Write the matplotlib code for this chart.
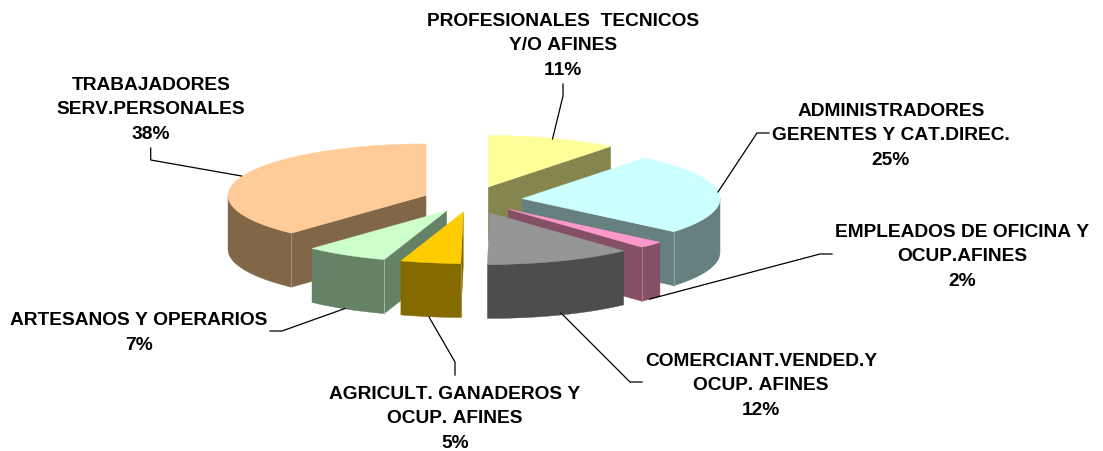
import numpy as np
import matplotlib
matplotlib.use("Agg")
import matplotlib.pyplot as plt
from matplotlib.patches import Polygon

plt.rcParams["text.kerning_factor"] = 16

# --- data ---
categories = [
    "PROFESIONALES  TECNICOS\nY/O AFINES",
    "ADMINISTRADORES\nGERENTES Y CAT.DIREC.",
    "EMPLEADOS DE OFICINA Y\nOCUP.AFINES",
    "COMERCIANT.VENDED.Y\nOCUP. AFINES",
    "AGRICULT. GANADEROS Y\nOCUP. AFINES",
    "ARTESANOS Y OPERARIOS",
    "TRABAJADORES\nSERV.PERSONALES",
]
values = [10.6, 25.5, 2.1, 12.0, 4.9, 6.8, 38.1]
percent_labels = ["11%", "25%", "2%", "12%", "5%", "7%", "38%"]

# --- style ---
top_colors = ["#FFFF99", "#CCFFFF", "#FF99CC", "#969696", "#FFCC00", "#CCFFCC", "#FFCC99"]
side_colors = ["#85854F", "#668080", "#854F66", "#4D4D4D", "#856A00", "#668266", "#826648"]
seam_colors = ["#A5A57F", "#8CA3A3", "#A5808F", "#808080", "#A58F33", "#A0B8A0", "#A58F7A"]
explode = [0.267, 0.259, 0.26, 0.268, 0.236, 0.2416, 0.244]
CX, CY, RX, RY, DEPTH = 471.0, 201.0, 198.0, 51.5, 54.0

label_pos = [(563, 46), (891, 136), (962, 257), (761, 386), (455, 419), (139, 333), (151, 110)]
leaders = [
    [(552.5, 140), (563, 97), (563, 85)],
    [(718, 193), (757, 134), (769, 134)],
    [(650, 300), (820, 255), (832, 255)],
    [(561, 314), (630, 383), (642, 383)],
    [(429, 318), (455, 363), (455, 376)],
    [(345, 309.5), (282, 332), (270, 332)],
    [(241.5, 177), (150.7, 161), (150.7, 149)],
]

fig = plt.figure(figsize=(11.03, 4.52), dpi=100)
ax = fig.add_axes([0, 0, 1, 1])
ax.set_xlim(0, 1103)
ax.set_ylim(452, 0)
ax.axis("off")

edges = np.radians(np.concatenate([[0], np.cumsum(values)]) / np.sum(values) * 360)


def rim(theta, ax0, ay0):
    return ax0 + RX * np.sin(theta), ay0 - RY * np.cos(theta)


def draw_slice(i):
    a, b = edges[i], edges[i + 1]
    m = (a + b) / 2
    ax0 = CX + explode[i] * RX * np.sin(m)
    ay0 = CY - explode[i] * RY * np.cos(m)
    side = side_colors[i]
    kw = dict(facecolor=side, edgecolor=side, linewidth=0.3, joinstyle="round")

    # radial cut faces that look towards the viewer
    for t, visible in ((a, np.sin(a) < -1e-6), (b, np.sin(b) > 1e-6)):
        if visible:
            x, y = rim(t, ax0, ay0)
            ax.add_patch(Polygon([(ax0, ay0), (x, y), (x, y + DEPTH), (ax0, ay0 + DEPTH)], **kw))

    # front part of the outer wall
    lo, hi = max(a, np.pi / 2), min(b, 3 * np.pi / 2)
    if hi > lo:
        t = np.linspace(lo, hi, 80)
        x, y = rim(t, ax0, ay0)
        pts = np.r_[np.c_[x, y], np.c_[x[::-1], y[::-1] + DEPTH]]
        ax.add_patch(Polygon(pts, **kw))
        # light seams where the wall meets a cut face
        for t0, ok in ((a, a >= np.pi / 2 and np.sin(a) < 0), (b, b <= 3 * np.pi / 2 and np.sin(b) > 0)):
            if ok:
                sx, sy = rim(t0, ax0, ay0)
                ax.plot([sx, sx], [sy, sy + DEPTH], color=seam_colors[i], lw=0.7, solid_capstyle="butt")

    # top face
    t = np.linspace(a, b, 120)
    x, y = rim(t, ax0, ay0)
    pts = np.r_[[(ax0, ay0)], np.c_[x, y]]
    ax.add_patch(Polygon(pts, facecolor=top_colors[i], edgecolor=top_colors[i], linewidth=0.3))


mids = (edges[:-1] + edges[1:]) / 2
for i in sorted(range(len(values)), key=lambda k: -np.cos(mids[k])):
    draw_slice(i)

for pts in leaders:
    xs, ys = zip(*pts)
    ax.plot(xs, ys, color="black", lw=0.9, solid_joinstyle="miter", zorder=5)

for cat, pct, (x, y) in zip(categories, percent_labels, label_pos):
    ax.text(x, y, f"{cat}\n{pct}", ha="center", va="center", ma="center",
            family=["Liberation Sans", "DejaVu Sans"], fontweight="bold",
            fontsize=13.8, linespacing=1.55, color="black", zorder=6)

fig.savefig("out.png", dpi=100, facecolor="white")
